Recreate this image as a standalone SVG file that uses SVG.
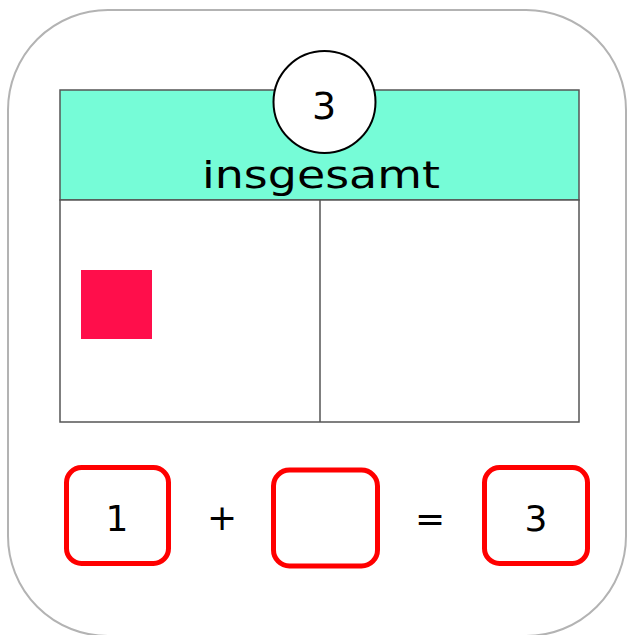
<svg xmlns="http://www.w3.org/2000/svg" width="628" height="635" viewBox="0 0 628 635">
<style>
.t{font-family:"DejaVu Sans","Liberation Sans",sans-serif;fill:#000;text-anchor:middle}
.box{fill:none;stroke:#ff0000;stroke-width:5}
.grid{stroke:#555;stroke-width:1.5}
</style>
<rect width="628" height="635" fill="#fff"/>
<g id="card">
<rect x="8" y="10" width="618" height="626" rx="100" ry="100" fill="#fff" stroke="#b3b3b3" stroke-width="2"/>
</g>
<g id="table">
<rect x="60" y="90" width="519" height="110" fill="#76fcd7" class="grid"/>
<rect x="60" y="200" width="519" height="222" fill="#fff" class="grid"/>
<line x1="320" y1="200" x2="320" y2="422" class="grid"/>
<text class="t" x="321" y="188" font-size="38" textLength="238" lengthAdjust="spacingAndGlyphs">insgesamt</text>
</g>
<g id="total">
<circle cx="324.5" cy="102" r="51" fill="#fff" stroke="#000" stroke-width="2"/>
<text class="t" x="324" y="119" font-size="38">3</text>
</g>
<g id="counter">
<rect x="81" y="270" width="71" height="69" fill="#ff0e4b"/>
</g>
<g id="equation">
<rect class="box" x="66.5" y="467.5" width="102" height="96" rx="15"/>
<text class="t" x="117" y="531" font-size="36">1</text>
<text class="t" x="222" y="530" font-size="36">+</text>
<rect class="box" x="273.5" y="470" width="104" height="96" rx="16"/>
<text class="t" x="430" y="531" font-size="36">=</text>
<rect class="box" x="484.5" y="467.5" width="103" height="96" rx="15"/>
<text class="t" x="536" y="531" font-size="36">3</text>
</g>
</svg>
